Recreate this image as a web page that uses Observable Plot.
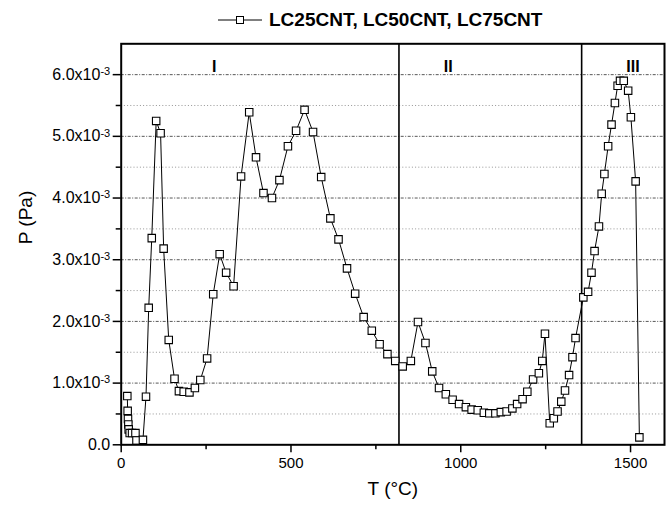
<!DOCTYPE html>
<html><head><meta charset="utf-8">
<script src="https://cdn.jsdelivr.net/npm/d3@7"></script>
<script src="https://cdn.jsdelivr.net/npm/@observablehq/plot@0.6"></script>
<style>
body{margin:0;background:#fff;font-family:"Liberation Sans",Arial,sans-serif;}
#legend{position:relative;width:667px;height:30px;}
#legend .lt{position:absolute;left:269px;top:9px;font-weight:bold;font-size:19px;line-height:22px;white-space:nowrap;color:#000;}
</style></head><body>
<div id="legend">
<svg style="position:absolute;left:218px;top:13px" width="46" height="14"><line x1="0" x2="44" y1="7" y2="7" stroke="#000" stroke-width="1"/><rect x="18.5" y="3.5" width="7" height="7" fill="#fff" stroke="#000"/></svg>
<span class="lt">LC25CNT, LC50CNT, LC75CNT</span>
</div>
<div id="chart"></div>
<script>
// Temperature (°C)
const temperature = [18,19,20,21,22,25,32,42,45,64,73,81,90,103,116,125,140,157,170,184,201,217,233,253,271,290,309,331,353,377,397,419,444,466,491,515,540,565,589,616,640,665,689,714,738,761,784,807,829,853,874,896,916,936,956,976,995,1015,1032,1050,1068,1084,1102,1118,1135,1152,1166,1182,1196,1213,1230,1240,1248,1262,1274,1285,1296,1307,1319,1329,1338,1361,1375,1385,1394,1407,1415,1423,1434,1444,1454,1462,1469,1480,1493,1501,1515,1526];
// Pressure in units of 1e-3 Pa
const pressure = [0.79,0.55,0.42,0.33,0.25,0.19,0.19,0.19,0.07,0.08,0.78,2.22,3.35,5.25,5.05,3.18,1.70,1.07,0.87,0.86,0.85,0.92,1.05,1.40,2.44,3.09,2.79,2.57,4.35,5.39,4.66,4.08,4.00,4.29,4.84,5.09,5.43,5.07,4.34,3.67,3.33,2.86,2.45,2.07,1.85,1.63,1.47,1.36,1.27,1.36,1.99,1.65,1.19,0.92,0.82,0.73,0.66,0.61,0.57,0.56,0.52,0.51,0.51,0.53,0.54,0.59,0.66,0.74,0.86,1.06,1.16,1.36,1.80,0.35,0.43,0.54,0.70,0.88,1.13,1.42,1.73,2.39,2.48,2.79,3.14,3.54,4.07,4.39,4.84,5.19,5.54,5.82,5.90,5.90,5.74,5.31,4.27,0.12];

const xTicks = [0, 500, 1000, 1500];
const xMinorTicks = [250, 750, 1250];
const yTicks = [0, 1, 2, 3, 4, 5, 6];
const yMinorTicks = [0.5, 1.5, 2.5, 3.5, 4.5, 5.5];
const yTickLabels = ["0.0", "1.0x10-3", "2.0x10-3", "3.0x10-3", "4.0x10-3", "5.0x10-3", "6.0x10-3"];
const regionNames = ["I", "II", "III"];
const regionCenters = [274, 963, 1507];
const regionBounds = [818, 1356];

const data = temperature.map((t, i) => ({T: t, P: pressure[i]}));
const regions = regionNames.map((n, i) => ({name: n, T: regionCenters[i]}));

const chart = Plot.plot({
  width: 667,
  height: 476,
  marginLeft: 120.7,
  marginRight: 3,
  marginTop: 13.3,
  marginBottom: 61.7,
  style: {fontFamily: "'Liberation Sans', Arial, sans-serif", fontSize: "15px", color: "#000", background: "#fff"},
  x: {domain: [0, 1600], label: null},
  y: {domain: [0, 6.5], label: null},
  marks: [
    Plot.ruleY(yMinorTicks, {stroke: "#8a8a8a", strokeWidth: 0.9, strokeDasharray: "1,2.2"}),
    Plot.ruleY(yTicks.filter(d => d > 0), {stroke: "#444", strokeWidth: 0.9, strokeDasharray: "3,1.5,1,1.5"}),
    Plot.ruleX(regionBounds, {stroke: "#000", strokeWidth: 1.6}),
    Plot.line(data, {x: "T", y: "P", stroke: "#000", strokeWidth: 1}),
    Plot.dot(data, {x: "T", y: "P", symbol: "square", r: 4.2, fill: "#fff", stroke: "#000", strokeWidth: 1.1}),
    Plot.frame({stroke: "#000", strokeWidth: 2}),
    Plot.axisX(xTicks, {tickSize: 8, tickPadding: 5, fontSize: 15, tickFormat: d => String(d), label: null, strokeWidth: 1.5}),
    Plot.axisX(xMinorTicks, {tickSize: 5, tickFormat: () => "", label: null, strokeWidth: 1.5}),
    Plot.axisY(yTicks, {tickSize: 8, tickPadding: 3, fontSize: 16, tickFormat: d => yTickLabels[yTicks.indexOf(d)], label: null, strokeWidth: 1.5}),
    Plot.axisY(yMinorTicks, {tickSize: 5, tickFormat: () => "", label: null, strokeWidth: 1.5}),
    Plot.text(regions, {x: "T", text: "name", frameAnchor: "top", dy: 17, fontSize: 16, fontWeight: "bold"}),
    Plot.text(["T (°C)"], {frameAnchor: "bottom", dy: 49.7, fontSize: 19}),
    Plot.text(["P (Pa)"], {frameAnchor: "left", dx: -95.7, rotate: -90, fontSize: 19})
  ]
});
document.getElementById("chart").appendChild(chart);

// superscript exponent on y tick labels
d3.select(chart).selectAll("text").each(function() {
  const s = this.textContent;
  const m = /^(.*x10)(-3)$/.exec(s);
  if (!m) return;
  const target = this.childElementCount === 0 ? d3.select(this) : d3.select(this).select("tspan");
  target.text(m[1]);
  d3.select(this).append("tspan").attr("dy", "-0.45em").attr("font-size", "11px").text(m[2]);
});
</script>
</body></html>
